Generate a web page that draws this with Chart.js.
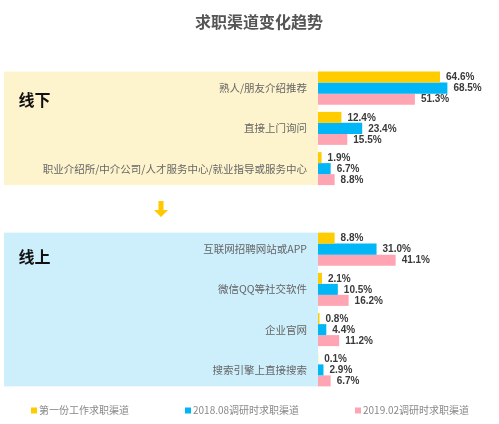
<!DOCTYPE html>
<html>
<head>
<meta charset="utf-8">
<script src="https://cdn.jsdelivr.net/npm/chart.js@4/dist/chart.umd.min.js"></script>
<style>
html,body{margin:0;padding:0;background:#fff;}
#wrap{width:499px;height:424px;position:relative;}
</style>
</head>
<body>
<div id="wrap"><canvas id="c" width="499" height="424"></canvas></div>
<script>
// ---- data ----
const title = '求职渠道变化趋势';
const groupNames = ['线下', '线上'];
const offlineCategories = ['熟人/朋友介绍推荐', '直接上门询问', '职业介绍所/中介公司/人才服务中心/就业指导或服务中心'];
const onlineCategories = ['互联网招聘网站或APP', '微信QQ等社交软件', '企业官网', '搜索引擎上直接搜索'];
const seriesNames = ['第一份工作求职渠道', '2018.08调研时求职渠道', '2019.02调研时求职渠道'];
const firstJobOffline = [64.6, 12.4, 1.9];
const firstJobOnline = [8.8, 2.1, 0.8, 0.1];
const survey201808Offline = [68.5, 23.4, 6.7];
const survey201808Online = [31.0, 10.5, 4.4, 2.9];
const survey201902Offline = [51.3, 15.5, 8.8];
const survey201902Online = [41.1, 16.2, 11.2, 6.7];

// ---- styles ----
const colors = ['#FFCC00', '#00B6F7', '#FFA4B3'];
const panelColors = ['#FDF3CC', '#CDEEFB'];
const CJK = "'Noto Sans CJK SC', 'Noto Sans', sans-serif";

const labels = [...offlineCategories, '', ...onlineCategories];
const join = (a, b) => [...a, null, ...b];
const seriesData = [
  join(firstJobOffline, firstJobOnline),
  join(survey201808Offline, survey201808Online),
  join(survey201902Offline, survey201902Online)
];
const CAT_PCT = 0.82;

const decorPlugin = {
  id: 'decor',
  beforeDraw(chart) {
    const ctx = chart.ctx, y = chart.scales.y, area = chart.chartArea;
    const half = (y.height / labels.length) * CAT_PCT / 2;
    const ranges = [[0, offlineCategories.length - 1],
                    [offlineCategories.length + 1, labels.length - 1]];
    ctx.save();
    ranges.forEach((r, i) => {
      const top = y.getPixelForValue(r[0]) - half;
      const bot = y.getPixelForValue(r[1]) + half;
      ctx.fillStyle = panelColors[i];
      ctx.fillRect(4, top, area.left - 4, bot - top);
    });
    ctx.restore();
  },
  afterDraw(chart) {
    const ctx = chart.ctx, y = chart.scales.y;
    ctx.save();
    // group names
    ctx.fillStyle = '#111';
    ctx.font = 'bold 16px ' + CJK;
    ctx.textAlign = 'left';
    ctx.textBaseline = 'middle';
    ctx.fillText(groupNames[0], 18.5, y.getPixelForValue(0) + 12);
    ctx.fillText(groupNames[1], 18.5, y.getPixelForValue(offlineCategories.length + 1) + 8);
    // arrow
    const ac = y.getPixelForValue(offlineCategories.length);
    const ax = 161;
    ctx.fillStyle = '#FFC800';
    ctx.beginPath();
    ctx.moveTo(ax - 2.5, ac - 8);
    ctx.lineTo(ax + 2.5, ac - 8);
    ctx.lineTo(ax + 2.5, ac + 1);
    ctx.lineTo(ax + 7, ac + 1);
    ctx.lineTo(ax, ac + 8);
    ctx.lineTo(ax - 7, ac + 1);
    ctx.lineTo(ax - 2.5, ac + 1);
    ctx.closePath();
    ctx.fill();
    // value labels
    ctx.font = 'bold 10px "Liberation Sans", Arial, sans-serif';
    ctx.fillStyle = '#3a3a3a';
    chart.data.datasets.forEach((ds, di) => {
      const meta = chart.getDatasetMeta(di);
      meta.data.forEach((el, i) => {
        const v = ds.data[i];
        if (v === null || v === undefined) return;
        ctx.fillText(v.toFixed(1) + '%', el.x + 6, el.y + 0.5);
      });
    });
    // legend
    const lx = [31, 185, 355];
    const ly = 410.5;
    ctx.font = '10px ' + CJK;
    chart.data.datasets.forEach((ds, di) => {
      ctx.fillStyle = ds.backgroundColor;
      ctx.fillRect(lx[di], ly - 3, 6, 6);
      ctx.fillStyle = '#888';
      ctx.fillText(ds.label, lx[di] + 8, ly);
    });
    ctx.restore();
  }
};

new Chart(document.getElementById('c'), {
  type: 'bar',
  data: {
    labels: labels,
    datasets: seriesNames.map((n, i) => ({
      label: n,
      data: seriesData[i],
      backgroundColor: colors[i],
      borderWidth: 0,
      barPercentage: 1,
      categoryPercentage: CAT_PCT
    }))
  },
  options: {
    indexAxis: 'y',
    responsive: false,
    animation: false,
    layout: { padding: { left: 30, right: 11, top: 0, bottom: 34 } },
    plugins: {
      legend: { display: false },
      tooltip: { enabled: false },
      title: {
        display: true,
        text: title,
        color: '#555',
        font: { family: CJK, size: 16, weight: 'bold', lineHeight: 1.2 },
        padding: { top: 12, bottom: 36.8 }
      }
    },
    scales: {
      x: { display: false, min: 0, max: 90 },
      y: {
        grid: { display: false, drawTicks: false },
        border: { display: false },
        ticks: { color: '#666', font: { family: CJK, size: 10.5 }, padding: 11, autoSkip: false },
        afterFit(scale) { scale.width = 288; }
      }
    }
  },
  plugins: [decorPlugin]
});
</script>
</body>
</html>
